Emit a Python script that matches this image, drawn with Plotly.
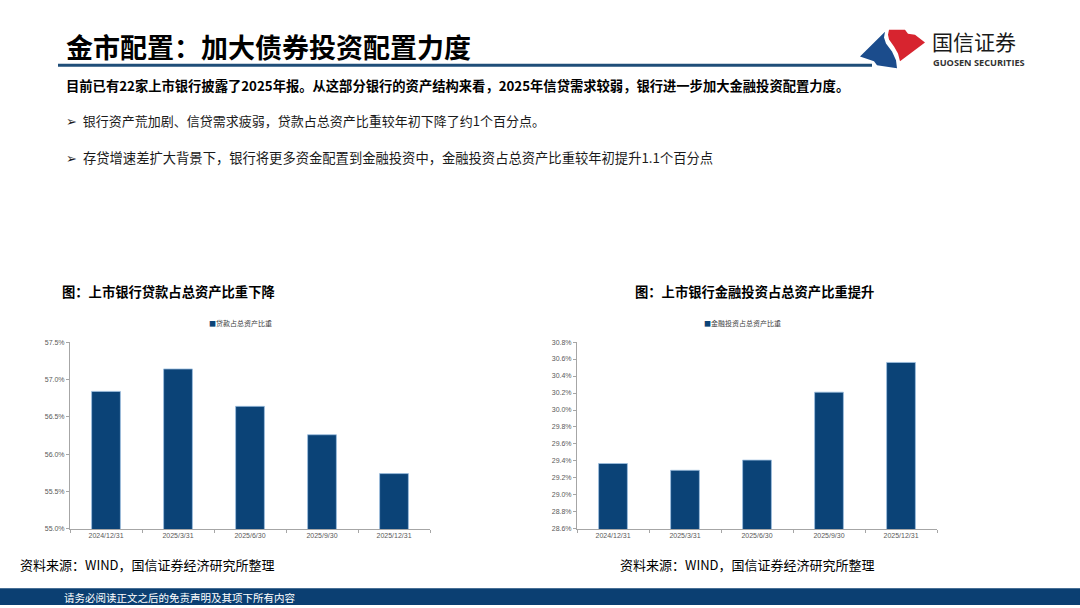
import plotly.graph_objects as go

W, H = 1080, 608

dates = ["2024/12/31", "2025/3/31", "2025/6/30", "2025/9/30", "2025/12/31"]
loan_share = [56.84, 57.14, 56.64, 56.26, 55.74]
invest_share = [29.37, 29.29, 29.41, 30.21, 30.56]
loan_name = "贷款占总资产比重"
invest_name = "金融投资占总资产比重"
loan_ticks = [55.0, 55.5, 56.0, 56.5, 57.0, 57.5]
invest_ticks = [28.6, 28.8, 29.0, 29.2, 29.4, 29.6, 29.8, 30.0, 30.2, 30.4, 30.6, 30.8]

NAVY = "#0B4377"
CJK = "Noto Sans CJK SC"


def px(x):
    return x / W


def py(y):
    return 1 - y / H


fig = go.Figure()
fig.add_trace(go.Bar(x=dates, y=loan_share, name=loan_name, xaxis="x", yaxis="y",
                     marker=dict(color=NAVY, line=dict(color="#9DBFE0", width=0.8)),
                     width=0.4, showlegend=False))
fig.add_trace(go.Bar(x=dates, y=invest_share, name=invest_name, xaxis="x2", yaxis="y2",
                     marker=dict(color=NAVY, line=dict(color="#9DBFE0", width=0.8)),
                     width=0.4, showlegend=False))

axis_common = dict(showgrid=False, zeroline=False, showline=True, linecolor="#A6A6A6",
                   linewidth=1, ticks="outside", tickcolor="#A6A6A6",
                   tickfont=dict(family="Liberation Sans, Arial", size=7, color="#595959"))

fig.update_layout(
    width=W, height=H, margin=dict(l=0, r=0, t=0, b=0),
    paper_bgcolor="white", plot_bgcolor="white", bargap=0.6,
    xaxis=dict(domain=[px(70), px(430)], anchor="y", tickson="boundaries", ticklen=3, **axis_common),
    yaxis=dict(domain=[py(531), py(342)], anchor="x", range=[55.0, 57.5], tickvals=loan_ticks,
               ticktext=[f"{v:.1f}%" for v in loan_ticks], ticklen=3, **axis_common),
    xaxis2=dict(domain=[px(577), px(937)], anchor="y2", tickson="boundaries", ticklen=3, **axis_common),
    yaxis2=dict(domain=[py(531), py(342)], anchor="x2", range=[28.6, 30.8], tickvals=invest_ticks,
                ticktext=[f"{v:.1f}%" for v in invest_ticks], ticklen=3, **axis_common),
)

shapes = []
# title underline
shapes.append(dict(type="line", xref="paper", yref="paper", x0=px(58), x1=px(872), y0=py(62), y1=py(62),
                   line=dict(color="#1F4E79", width=3)))
# footer bar
shapes.append(dict(type="rect", xref="paper", yref="paper", x0=0, x1=1, y0=0, y1=py(591),
                   fillcolor="#0B3F72", line=dict(width=0)))


def path(pts):
    return "M " + " L ".join(f"{px(x):.5f},{py(y):.5f}" for x, y in pts) + " Z"


# logo: blue and red pieces
blue_pts = [(885, 28), (860, 53), (874, 58), (877, 62), (897, 65), (896, 57), (892, 48), (886, 40), (884, 34)]
red_pts = [(889, 26), (905, 26), (908, 30), (915, 31), (925, 39), (900, 58), (898, 50), (894, 43), (889, 36), (888, 31)]
shapes.append(dict(type="path", xref="paper", yref="paper", path=path(blue_pts),
                   fillcolor="#1B4C8C", line=dict(width=0)))
shapes.append(dict(type="path", xref="paper", yref="paper", path=path(red_pts),
                   fillcolor="#D7242F", line=dict(width=0)))
fig.update_layout(shapes=shapes)

ann = []


def text(x, y, s, size, color="#000000", bold=False, xanchor="left", family=CJK):
    ann.append(dict(x=px(x), y=py(y), xref="paper", yref="paper", text=(f"<b>{s}</b>" if bold else s),
                    showarrow=False, xanchor=xanchor, yanchor="middle",
                    font=dict(family=family, size=size, color=color)))


text(64, 43, "金市配置：加大债券投资配置力度", 27, bold=True)
text(930, 37, "国信证券", 21, color="#1A1A1A")
text(931, 59, "GUOSEN SECURITIES", 9.2, color="#333333", bold=True, family="Open Sans")
text(64, 82, "目前已有22家上市银行披露了2025年报。从这部分银行的资产结构来看，2025年信贷需求较弱，银行进一步加大金融投资配置力度。",
     13.3, bold=True)
text(64, 118, "➢  银行资产荒加剧、信贷需求疲弱，贷款占总资产比重较年初下降了约1个百分点。", 13, color="#1A1A1A")
text(64, 155, "➢  存贷增速差扩大背景下，银行将更多资金配置到金融投资中，金融投资占总资产比重较年初提升1.1个百分点", 13.3,
     color="#1A1A1A")
text(60, 291, "图：上市银行贷款占总资产比重下降", 13.3, bold=True)
text(633, 291, "图：上市银行金融投资占总资产比重提升", 13.3, bold=True)
text(240, 323, f"<span style='color:{NAVY}'>■</span>{loan_name}", 7, color="#404040", xanchor="center")
text(742, 323, f"<span style='color:{NAVY}'>■</span>{invest_name}", 7, color="#404040", xanchor="center")
text(18, 567, "资料来源：WIND，国信证券经济研究所整理", 13)
text(618, 567, "资料来源：WIND，国信证券经济研究所整理", 13)
text(62, 600, "请务必阅读正文之后的免责声明及其项下所有内容", 10.5, color="white")

fig.update_layout(annotations=ann)
fig.write_html("out.html", config={"displayModeBar": False},
               post_script="document.body.style.margin='0px';document.body.style.overflow='hidden';")
